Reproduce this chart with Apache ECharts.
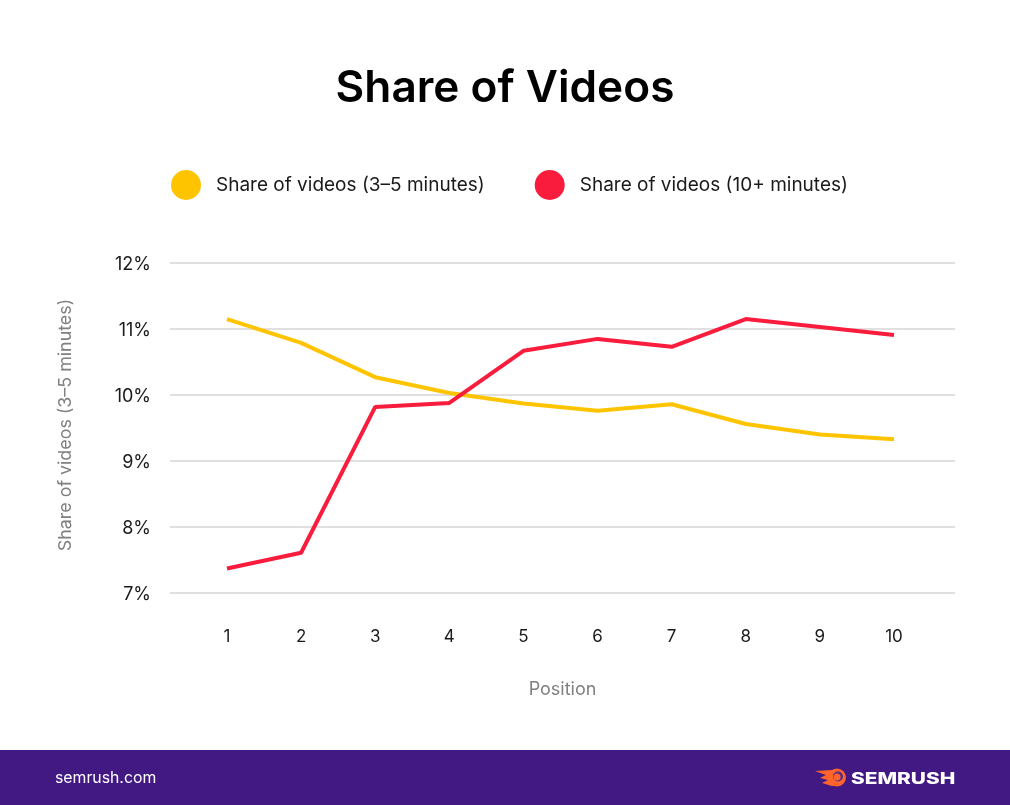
<!DOCTYPE html>
<html><head><meta charset="utf-8">
<style>html,body{margin:0;padding:0;background:#fff}#c{width:1010px;height:805px}</style>
<script src="https://cdn.jsdelivr.net/npm/echarts@6/dist/echarts.min.js"></script>
</head><body><div id="c"></div>
<script>
const positions = [1,2,3,4,5,6,7,8,9,10];
const share3to5 = [11.15,10.79,10.27,10.03,9.87,9.76,9.86,9.56,9.40,9.33];
const share10plus = [7.37,7.61,9.82,9.88,10.67,10.85,10.73,11.15,11.03,10.91];
const font = 'Inter';
const chart = echarts.init(document.getElementById('c'), null, {renderer:'canvas'});
const pair = a => a.map((v,i)=>[positions[i],v]);
chart.setOption({
  animation:false,
  backgroundColor:'#fff',
  title:{text:'Share of Videos',left:'center',top:62,textStyle:{fontFamily:font,fontSize:44.2,fontWeight:600,color:'#000'}},
  legend:{left:166,top:165,itemWidth:30,itemHeight:30,itemGap:50,icon:'circle',
    textStyle:{fontFamily:font,fontSize:19,color:'#1a1a1a',padding:[0,0,0,10]}},
  grid:{left:170,right:55,top:263,bottom:212},
  xAxis:{type:'value',min:0.231,max:10.823,name:'Position',nameLocation:'middle',nameGap:88,
    nameTextStyle:{fontFamily:font,fontSize:18,color:'#808080'},
    axisLine:{show:false},axisTick:{show:false},splitLine:{show:false},
    axisLabel:{customValues:positions,margin:35,fontFamily:font,fontSize:17,color:'#1a1a1a'}},
  yAxis:{type:'value',min:7,max:12,interval:1,name:'Share of videos (3–5 minutes)',nameLocation:'middle',nameGap:95,
    nameTextStyle:{fontFamily:font,fontSize:17.85,color:'#808080',padding:[0,0,0,6]},
    axisLine:{show:false},axisTick:{show:false},
    splitLine:{lineStyle:{color:'#e0e0e0',width:2}},
    axisLabel:{formatter:'{value}%',margin:19,fontFamily:font,fontSize:18,color:'#1a1a1a',verticalAlign:'top',lineHeight:4}},
  series:[
    {name:'Share of videos (3–5 minutes)',type:'line',data:pair(share3to5),showSymbol:false,symbol:'none',
      itemStyle:{color:'#ffc400'},lineStyle:{color:'#ffc400',width:4}},
    {name:'Share of videos (10+ minutes)',type:'line',data:pair(share10plus),showSymbol:false,symbol:'none',
      itemStyle:{color:'#f91c3d'},lineStyle:{color:'#f91c3d',width:4}}
  ],
  graphic:[
    {type:'rect',z:-1,shape:{x:0,y:750,width:1010,height:55},style:{fill:'#421983'}},
    {type:'text',x:55,y:770,style:{text:'semrush.com',fontFamily:font,fontSize:15.8,fill:'#fff'}},
    {type:'text',x:851,y:771,scaleX:1.3,style:{text:'SEMRUSH',fontFamily:'Inter',fontSize:16,fontWeight:800,fill:'#fff'}},
    {type:'polygon',shape:{points:[[815,771],[832,770],[838,769],[838,786],[832,786],[822,783],[828,780],[820,778],[826,775]]},style:{fill:'#ff642d'}},
    {type:'circle',shape:{cx:837,cy:777.5,r:9},style:{fill:'#ff642d'}},
    {type:'circle',shape:{cx:838,cy:776.5,r:5},style:{fill:'#5a2a8a'}},
    {type:'circle',shape:{cx:837,cy:777,r:3.5},style:{fill:'#ff642d'}}
  ]
});
</script></body></html>
